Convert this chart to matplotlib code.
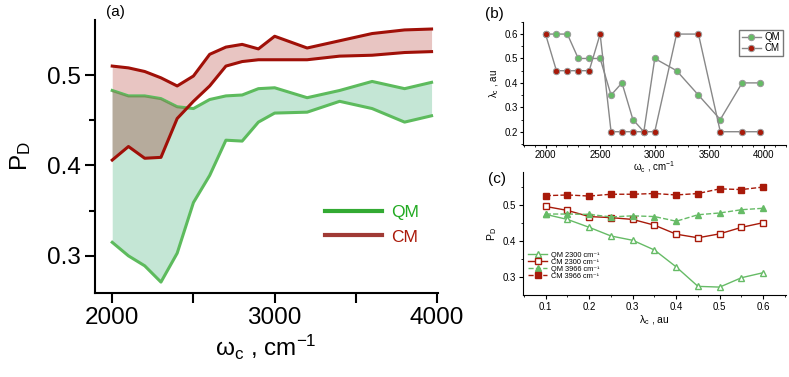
import numpy as np
import matplotlib
matplotlib.use("Agg")
import matplotlib.pyplot as plt
from matplotlib.ticker import MultipleLocator, FixedLocator

plt.rcParams['font.family'] = ['Liberation Sans', 'DejaVu Sans']
plt.rcParams['mathtext.fontset'] = 'custom'
plt.rcParams['mathtext.rm'] = 'Liberation Sans'
plt.rcParams['mathtext.it'] = 'Liberation Sans'

# ---- data ----
omega = [2000, 2100, 2200, 2300, 2400, 2500, 2600, 2700, 2800, 2900, 3000, 3200, 3400, 3600, 3800, 3966]
cm_upper = [0.510, 0.508, 0.504, 0.497, 0.488, 0.499, 0.523, 0.531, 0.534, 0.529, 0.543, 0.530, 0.538, 0.546, 0.550, 0.551]
cm_lower = [0.406, 0.421, 0.408, 0.409, 0.452, 0.471, 0.488, 0.510, 0.515, 0.517, 0.517, 0.517, 0.521, 0.522, 0.525, 0.526]
qm_upper = [0.483, 0.477, 0.477, 0.474, 0.465, 0.463, 0.473, 0.477, 0.478, 0.485, 0.486, 0.475, 0.483, 0.493, 0.485, 0.492]
qm_lower = [0.315, 0.300, 0.289, 0.271, 0.303, 0.359, 0.389, 0.428, 0.427, 0.448, 0.458, 0.459, 0.471, 0.463, 0.448, 0.455]

lam_qm = [0.6, 0.6, 0.6, 0.5, 0.5, 0.5, 0.35, 0.4, 0.25, 0.2, 0.5, 0.45, 0.35, 0.25, 0.4, 0.4]
lam_cm = [0.6, 0.45, 0.45, 0.45, 0.45, 0.6, 0.2, 0.2, 0.2, 0.2, 0.2, 0.6, 0.6, 0.2, 0.2, 0.2]

lam = [0.1, 0.15, 0.2, 0.25, 0.3, 0.35, 0.4, 0.45, 0.5, 0.55, 0.6]
qm_2300 = [0.475, 0.461, 0.439, 0.415, 0.403, 0.376, 0.329, 0.275, 0.273, 0.299, 0.313]
cm_2300 = [0.497, 0.486, 0.469, 0.466, 0.461, 0.445, 0.420, 0.410, 0.421, 0.439, 0.452]
qm_3966 = [0.476, 0.476, 0.475, 0.468, 0.471, 0.469, 0.456, 0.474, 0.479, 0.488, 0.492]
cm_3966 = [0.527, 0.529, 0.526, 0.531, 0.531, 0.533, 0.529, 0.533, 0.546, 0.544, 0.551]
legend_c = ['QM 2300 cm⁻¹', 'CM 2300 cm⁻¹', 'QM 3966 cm⁻¹', 'CM 3966 cm⁻¹']

GREEN_LINE = '#5dbb5d'
GREEN_FILL = '#c4e6d5'
RED_LINE = '#a01008'
RED_FILL = '#e8c5c2'
OVERLAP = '#b6ab9c'
OLIVE = '#6e9a55'
GREEN_M = '#66bb66'
RED_M = '#a81a0a'

fig = plt.figure(figsize=(7.89, 3.77), dpi=100)

# ---- panel (a) ----
axA = fig.add_axes([0.120, 0.223, 0.435, 0.724])
x = np.array(omega)
cu, cl, qu, ql = map(np.array, (cm_upper, cm_lower, qm_upper, qm_lower))
axA.fill_between(x, ql, qu, color=GREEN_FILL, lw=0, zorder=1)
axA.fill_between(x, cl, cu, color=RED_FILL, lw=0, zorder=1)
lo = np.maximum(ql, cl)
hi = np.minimum(qu, cu)
ov = axA.fill_between(x, lo, hi, where=hi > lo, interpolate=True, color=OVERLAP, lw=0, zorder=2)
axA.plot(x, qu, color=GREEN_LINE, lw=2.2, zorder=1.5)
olive, = axA.plot(x, qu, color=OLIVE, lw=2.2, zorder=2.5)
olive.set_clip_path(ov.get_paths()[0], transform=axA.transData)
axA.plot(x, ql, color=GREEN_LINE, lw=2.2, zorder=3)
axA.plot(x, cu, color=RED_LINE, lw=2.2, zorder=4)
axA.plot(x, cl, color=RED_LINE, lw=2.2, zorder=4)
axA.set_xlim(1892, 4005)
axA.set_ylim(0.259, 0.561)
for s in ['top', 'right']:
    axA.spines[s].set_visible(False)
for s in ['left', 'bottom']:
    axA.spines[s].set_linewidth(1.5)
axA.xaxis.set_major_locator(FixedLocator([2000, 3000, 4000]))
axA.xaxis.set_minor_locator(FixedLocator([2500, 3500]))
axA.yaxis.set_major_locator(FixedLocator([0.3, 0.4, 0.5]))
axA.yaxis.set_minor_locator(FixedLocator([0.35, 0.45]))
axA.tick_params(which='major', length=7, width=1.5, labelsize=17.5, pad=3)
axA.tick_params(axis='x', which='minor', length=7, width=1.5)
axA.tick_params(axis='y', which='minor', length=4.5, width=1.5)
axA.set_ylabel(r'P$_\mathrm{D}$', fontsize=17.5, labelpad=10)
axA.set_xlabel(r'ω$_\mathrm{c}$ , cm$^\mathrm{-1}$', fontsize=17.5, labelpad=3)
# legend
lq, = axA.plot([], [], color='#33aa33', lw=3)
lc, = axA.plot([], [], color='#a03a35', lw=3)
leg = axA.legend([lq, lc], ['QM', 'CM'], loc='lower right', bbox_to_anchor=(0.99, 0.12),
                 frameon=False, fontsize=12.5, handlelength=3.3, handletextpad=0.5, labelspacing=0.55)
leg.get_texts()[0].set_color('#22aa22')
leg.get_texts()[1].set_color('#aa1a0a')
fig.text(0.146, 0.968, '(a)', fontsize=11, ha='center', va='center')

# ---- panel (b) ----
axB = fig.add_axes([0.663, 0.615, 0.333, 0.327])
axB.plot(omega, lam_qm, color='#888888', lw=1, marker='o', ms=4.6, mfc=GREEN_M, mec='#999999', mew=0.7, label='QM', zorder=3)
axB.plot(omega, lam_cm, color='#888888', lw=1, marker='o', ms=4.6, mfc=RED_M, mec='#999999', mew=0.7, label='CM', zorder=3)
axB.set_xlim(1795, 4200)
axB.set_ylim(0.145, 0.65)
for s in ['top', 'right']:
    axB.spines[s].set_visible(False)
axB.xaxis.set_major_locator(MultipleLocator(500))
axB.xaxis.set_minor_locator(MultipleLocator(100))
axB.yaxis.set_major_locator(MultipleLocator(0.1))
axB.yaxis.set_minor_locator(MultipleLocator(0.05))
axB.tick_params(which='major', length=2.5, labelsize=7, pad=1)
axB.tick_params(which='minor', length=1.5)
axB.set_ylabel(r'λ$_\mathrm{c}$ , au', fontsize=7, labelpad=3)
axB.set_xlabel(r'ω$_\mathrm{c}$ , cm$^\mathrm{-1}$', fontsize=7, labelpad=0)
axB.legend(loc='upper right', bbox_to_anchor=(1.0, 0.96), fontsize=7, frameon=True, fancybox=False,
           edgecolor='#555555', handlelength=2.0, borderpad=0.25, labelspacing=0.1, handletextpad=0.4,
           borderaxespad=0.3)
fig.text(0.627, 0.962, '(b)', fontsize=11, ha='center', va='center')

# ---- panel (c) ----
axC = fig.add_axes([0.663, 0.2175, 0.333, 0.3255])
axC.patch.set_visible(False)
axC.plot(lam, qm_2300, color=GREEN_M, lw=1, marker='^', ms=4.2, mfc='white', mec=GREEN_M, label=legend_c[0])
axC.plot(lam, cm_2300, color=RED_M, lw=1, marker='s', ms=3.7, mfc='white', mec=RED_M, label=legend_c[1])
axC.plot(lam, qm_3966, color=GREEN_M, lw=1, ls='--', marker='^', ms=4.2, mfc=GREEN_M, mec=GREEN_M, label=legend_c[2])
axC.plot(lam, cm_3966, color=RED_M, lw=1, ls='--', marker='s', ms=3.7, mfc=RED_M, mec=RED_M, label=legend_c[3])
axC.set_xlim(0.048, 0.652)
axC.set_ylim(0.251, 0.592)
for s in ['top', 'right']:
    axC.spines[s].set_visible(False)
axC.xaxis.set_major_locator(MultipleLocator(0.1))
axC.xaxis.set_minor_locator(MultipleLocator(0.05))
axC.yaxis.set_major_locator(FixedLocator([0.3, 0.4, 0.5]))
axC.yaxis.set_minor_locator(MultipleLocator(0.05))
axC.tick_params(which='major', length=3, labelsize=7, pad=2)
axC.tick_params(which='minor', length=1.5)
axC.set_ylabel(r'P$_\mathrm{D}$', fontsize=7.5, labelpad=3)
axC.set_xlabel(r'λ$_\mathrm{c}$ , au', fontsize=7.5, labelpad=1)
axC.legend(loc='lower left', bbox_to_anchor=(0.0, 0.08), fontsize=5.3, frameon=False,
           handlelength=2.6, labelspacing=0.0, handletextpad=0.5, borderpad=0.2, markerscale=1.0)
fig.text(0.630, 0.525, '(c)', fontsize=11, ha='center', va='center')

fig.savefig('out.png', dpi=100)
